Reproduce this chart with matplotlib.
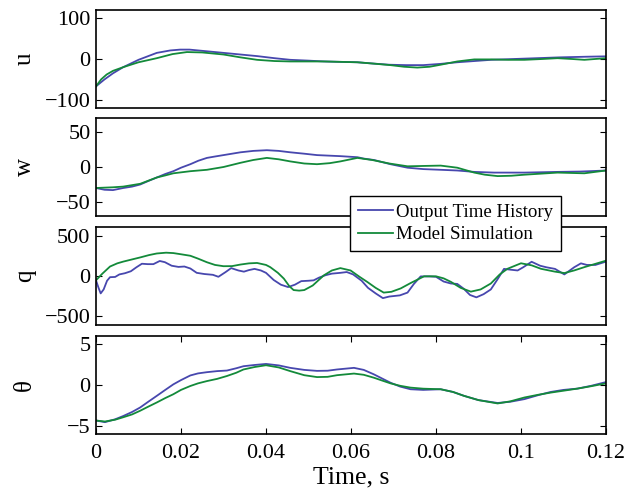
import matplotlib
matplotlib.use("Agg")
import matplotlib.pyplot as plt

plt.rcParams['font.family'] = ['Liberation Serif', 'DejaVu Serif']

# ---- data (time in s) ----
t_u_out = [0, 0.002, 0.004, 0.0064, 0.01, 0.0143, 0.0175, 0.0198, 0.022, 0.026, 0.030, 0.034, 0.038, 0.042, 0.0457, 0.05, 0.0536, 0.0575, 0.0615, 0.065, 0.069, 0.073, 0.077, 0.081, 0.085, 0.089, 0.093, 0.097, 0.101, 0.105, 0.109, 0.115, 0.12]
u_out = [-67, -50, -35, -20, -2, 15, 21, 23, 23, 19, 15, 11, 7, 2, -2, -4, -6, -7, -8, -11, -14, -15, -15, -12, -8, -5, -2, -0.5, 1, 2.5, 4, 5.5, 6.5]
t_u_mod = [0, 0.0012, 0.0025, 0.004, 0.0064, 0.01, 0.0143, 0.018, 0.0214, 0.025, 0.030, 0.034, 0.0379, 0.042, 0.0457, 0.05, 0.0536, 0.0575, 0.0615, 0.065, 0.0693, 0.0725, 0.0756, 0.0785, 0.0811, 0.085, 0.089, 0.093, 0.097, 0.1008, 0.105, 0.1086, 0.112, 0.1149, 0.12]
u_mod = [-67, -50, -38, -29, -20, -8, 2, 12, 17, 16, 11, 4, -2, -5, -6, -6, -6, -7, -8, -11, -15, -19, -21, -19, -14, -6, -1, -1, -2, -2, 0, 2, 0, -2, 2]

t_w_out = [0, 0.002, 0.004, 0.0064, 0.0085, 0.0104, 0.0123, 0.0143, 0.0163, 0.0182, 0.020, 0.0222, 0.0241, 0.0261, 0.028, 0.030, 0.034, 0.037, 0.0402, 0.043, 0.0457, 0.049, 0.052, 0.0575, 0.0615, 0.063, 0.0654, 0.0693, 0.0733, 0.077, 0.0811, 0.085, 0.089, 0.0937, 0.1008, 0.1086, 0.114, 0.12]
w_out = [-30, -32.5, -33, -30, -28, -25, -20, -15, -10, -6, -1, 4, 9, 13, 15, 17, 21, 23, 24, 23, 21, 19, 17, 15.5, 14, 12, 10, 4, -1, -3, -4, -5, -7, -8, -8, -7, -6.5, -5]
t_w_mod = [0, 0.004, 0.0064, 0.0104, 0.0143, 0.0163, 0.0182, 0.0222, 0.0261, 0.030, 0.034, 0.037, 0.0402, 0.043, 0.0457, 0.049, 0.052, 0.055, 0.0575, 0.0615, 0.065, 0.069, 0.0733, 0.077, 0.0811, 0.085, 0.089, 0.0915, 0.0945, 0.0977, 0.1008, 0.1086, 0.1149, 0.12]
w_mod = [-30, -29, -28, -24, -15, -12, -9, -6, -4, 0, 6, 10, 13, 11, 8, 5, 4, 5.5, 8, 13, 10, 5, 1, 1.5, 2, -1, -8, -11, -13, -12.5, -11, -8, -9, -5]

t_q_out = [0, 0.0006, 0.0011, 0.0018, 0.0026, 0.0033, 0.0045, 0.0055, 0.0068, 0.0082, 0.0095, 0.0108, 0.0122, 0.0135, 0.015, 0.0162, 0.0178, 0.0194, 0.0208, 0.0222, 0.0237, 0.0255, 0.0275, 0.0288, 0.0305, 0.0318, 0.0335, 0.0348, 0.036, 0.0373, 0.0388, 0.040, 0.0418, 0.0435, 0.0452, 0.0468, 0.0483, 0.050, 0.0512, 0.0525, 0.054, 0.0555, 0.0575, 0.059, 0.0605, 0.0625, 0.064, 0.0658, 0.0675, 0.069, 0.0715, 0.0733, 0.0748, 0.0764, 0.0785, 0.080, 0.0818, 0.0835, 0.085, 0.0865, 0.088, 0.0895, 0.0912, 0.0929, 0.0945, 0.096, 0.0975, 0.0992, 0.1005, 0.1025, 0.1045, 0.106, 0.108, 0.1102, 0.1125, 0.1141, 0.1155, 0.1175, 0.12]
q_out = [-54, -150, -220, -170, -60, -15, -12, 20, 35, 60, 110, 155, 150, 150, 190, 175, 130, 115, 120, 95, 40, 25, 15, -10, 50, 100, 70, 55, 75, 90, 70, 40, -50, -110, -140, -110, -65, -60, -55, -20, 10, 30, 40, 50, 20, -60, -150, -220, -280, -260, -245, -210, -100, -5, -5, -10, -70, -95, -100, -160, -240, -270, -230, -170, -40, 90, 80, 70, 110, 180, 130, 110, 90, 20, 110, 160, 140, 140, 182]
t_q_mod = [0, 0.0015, 0.0033, 0.005, 0.0064, 0.0085, 0.0104, 0.0125, 0.0143, 0.0165, 0.0182, 0.020, 0.0222, 0.024, 0.0261, 0.028, 0.030, 0.032, 0.034, 0.036, 0.0379, 0.040, 0.041, 0.0428, 0.0442, 0.0455, 0.0465, 0.0478, 0.049, 0.051, 0.0536, 0.0555, 0.0575, 0.0599, 0.062, 0.0638, 0.0658, 0.0677, 0.0695, 0.0717, 0.074, 0.0772, 0.080, 0.0818, 0.0835, 0.0858, 0.0882, 0.0905, 0.0929, 0.095, 0.0968, 0.100, 0.1025, 0.1047, 0.108, 0.1102, 0.1125, 0.1149, 0.12]
q_mod = [-54, 30, 120, 160, 182, 210, 235, 265, 285, 295, 290, 275, 256, 220, 174, 140, 124, 125, 145, 160, 165, 140, 112, 40, -33, -130, -178, -185, -178, -120, 8, 70, 100, 70, -10, -74, -150, -210, -200, -157, -90, -4, -4, -30, -74, -150, -198, -170, -95, 20, 91, 161, 135, 91, 55, 37, 70, 112, 194]

t_th = [0, 0.0021, 0.0045, 0.0064, 0.0085, 0.0104, 0.0123, 0.0143, 0.0163, 0.0182, 0.020, 0.0222, 0.024, 0.0261, 0.0285, 0.0308, 0.033, 0.0347, 0.0373, 0.040, 0.043, 0.0457, 0.049, 0.052, 0.0545, 0.0567, 0.0607, 0.063, 0.0654, 0.0673, 0.0693, 0.0716, 0.074, 0.077, 0.0811, 0.084, 0.0866, 0.090, 0.0945, 0.0975, 0.1008, 0.104, 0.107, 0.110, 0.1133, 0.1165, 0.12]
th_out = [-4.35, -4.55, -4.2, -3.8, -3.3, -2.75, -2.05, -1.33, -0.6, 0.08, 0.6, 1.17, 1.42, 1.57, 1.7, 1.77, 2.05, 2.3, 2.45, 2.58, 2.4, 2.1, 1.85, 1.73, 1.75, 1.9, 2.1, 1.85, 1.3, 0.8, 0.28, -0.2, -0.52, -0.6, -0.52, -0.85, -1.33, -1.85, -2.2, -2.05, -1.73, -1.25, -0.85, -0.6, -0.44, -0.1, 0.36]
th_mod = [-4.35, -4.47, -4.25, -3.95, -3.6, -3.15, -2.65, -2.14, -1.6, -1.13, -0.6, -0.12, 0.2, 0.48, 0.75, 1.1, 1.5, 1.9, 2.2, 2.42, 2.15, 1.7, 1.2, 0.97, 1.0, 1.2, 1.4, 1.25, 0.89, 0.55, 0.2, -0.1, -0.32, -0.45, -0.52, -0.85, -1.33, -1.85, -2.26, -2.0, -1.53, -1.2, -0.93, -0.7, -0.44, -0.15, 0.2]

ylabels = ['u', 'w', 'q', '\u03b8']
ylims = [(-120, 120), (-70, 70), (-620, 620), (-6, 6)]
yticks = [[-100, 0, 100], [-50, 0, 50], [-500, 0, 500], [-5, 0, 5]]
xticks = [0, 0.02, 0.04, 0.06, 0.08, 0.1, 0.12]
xticklabels = ['0', '0.02', '0.04', '0.06', '0.08', '0.1', '0.12']
legend_labels = ['Output Time History', 'Model Simulation']

BLUE = '#4747AE'
GREEN = '#138A3A'

fig = plt.figure(figsize=(6.27, 4.95), dpi=100)
W, H = 627, 495
left, right = 96, 606
tops = [10, 118, 227, 336]
height = 98

series = [
    ((t_u_out, u_out), (t_u_mod, u_mod)),
    ((t_w_out, w_out), (t_w_mod, w_mod)),
    ((t_q_out, q_out), (t_q_mod, q_mod)),
    ((t_th, th_out), (t_th, th_mod)),
]

for i in range(4):
    ax = fig.add_axes([left / W, 1 - (tops[i] + height) / H, (right - left) / W, height / H])
    (to, yo), (tm, ym) = series[i]
    l1, = ax.plot(to, yo, color=BLUE, lw=1.3, solid_joinstyle='round')
    l2, = ax.plot(tm, ym, color=GREEN, lw=1.3, solid_joinstyle='round')
    ax.set_xlim(0, 0.12)
    ax.set_ylim(*ylims[i])
    ax.set_yticks(yticks[i])
    ax.set_yticklabels(['\u2212' + str(abs(v)) if v < 0 else str(v) for v in yticks[i]])
    ax.tick_params(direction='in', length=4, width=0.8, labelsize=16, right=True, top=True, pad=4)
    ax.tick_params(axis='x', pad=7)
    if i < 3:
        ax.set_xticks([])
    else:
        ax.set_xticks(xticks)
        ax.set_xticklabels(xticklabels)
        ax.set_xlabel('Time, s', fontsize=18.5, labelpad=3)
    ax.set_ylabel(ylabels[i], fontsize=18)
    ax.yaxis.set_label_coords(-0.118, 0.5)
    for s in ax.spines.values():
        s.set_linewidth(1.2)

leg = fig.legend([l1, l2], legend_labels, loc='upper left',
                 bbox_to_anchor=(350 / W, 1 - 196 / H), fontsize=13.6,
                 frameon=True, fancybox=False, handlelength=1.85,
                 borderpad=0.4, labelspacing=0.28, handletextpad=0.2,
                 borderaxespad=0)
leg.get_frame().set_edgecolor('black')
leg.get_frame().set_linewidth(1.0)
leg.get_frame().set_alpha(1)
leg.set_zorder(10)

fig.savefig('out.png', dpi=100)
